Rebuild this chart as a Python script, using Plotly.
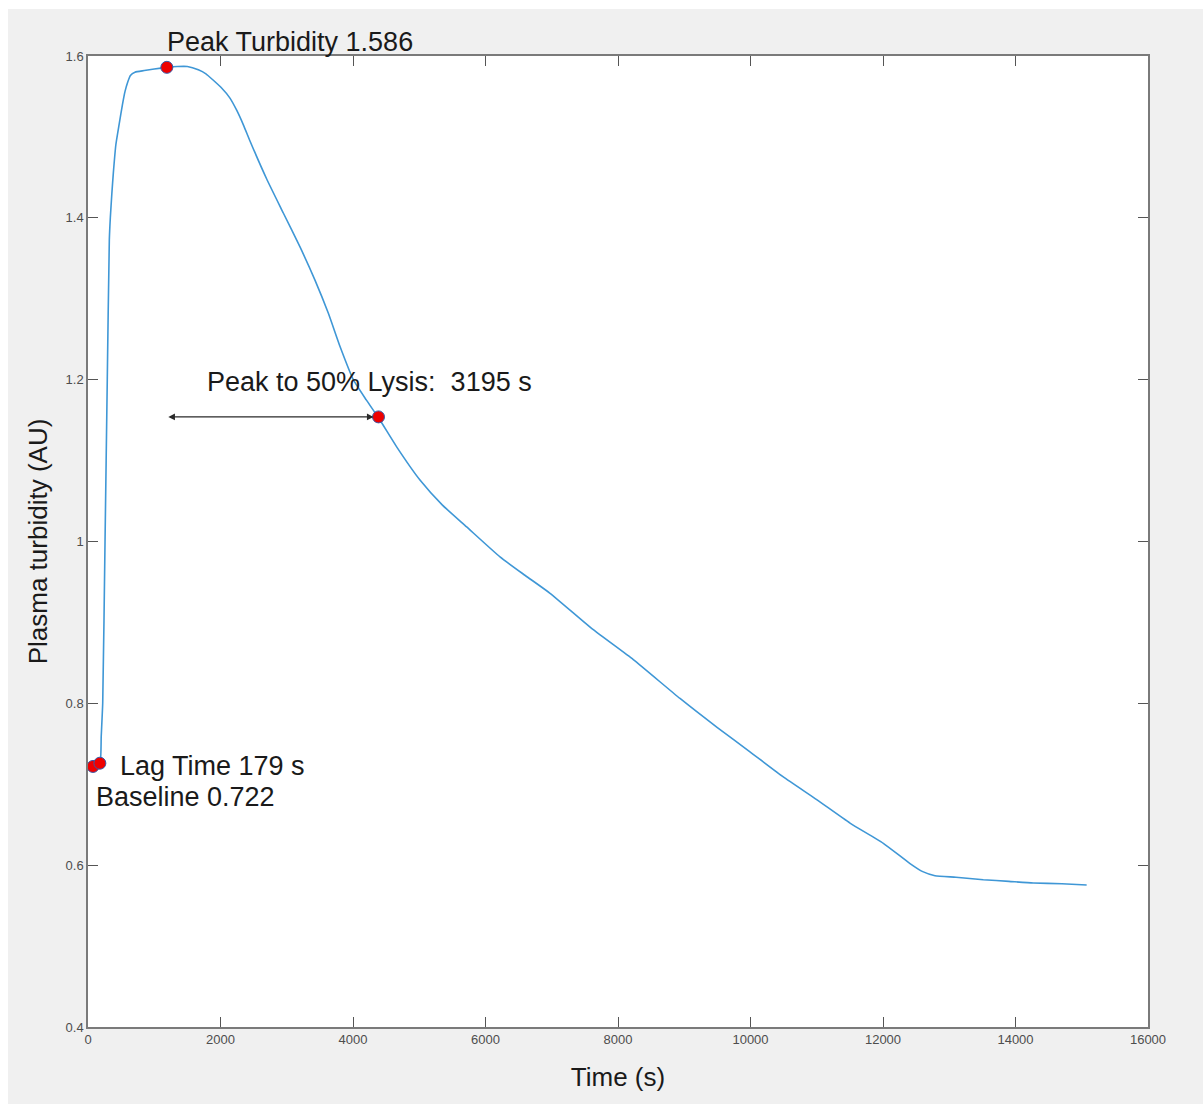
import plotly.graph_objects as go

# ---- data ----
time_s = [60, 120, 179, 200, 222, 257, 291, 322, 337, 360, 382, 420, 473, 520, 558,
          600, 640, 709, 850, 1000, 1190, 1350, 1500, 1665, 1780, 1892, 2010, 2143,
          2244, 2350, 2445, 2697, 2948, 3200, 3426, 3628, 3804, 4005, 4200, 4392,
          4659, 5011, 5350, 5716, 6219, 6600, 6974, 7627, 8231, 8936, 9500, 9992,
          10495, 10999, 11502, 12005, 12408, 12600, 12785, 13100, 13514, 13900,
          14268, 14700, 15074]
turbidity = [0.722, 0.722, 0.724, 0.76, 0.80, 1.00, 1.20, 1.373, 1.40, 1.43, 1.455,
             1.49, 1.517, 1.540, 1.556, 1.568, 1.576, 1.580, 1.582, 1.584, 1.586,
             1.587, 1.587, 1.583, 1.578, 1.570, 1.561, 1.548, 1.533, 1.514, 1.495,
             1.448, 1.406, 1.364, 1.323, 1.282, 1.241, 1.200, 1.175, 1.152, 1.117,
             1.076, 1.045, 1.018, 0.981, 0.958, 0.936, 0.891, 0.854, 0.806, 0.770,
             0.740, 0.709, 0.681, 0.652, 0.627, 0.602, 0.592, 0.587, 0.585, 0.582,
             0.580, 0.578, 0.577, 0.5755]

# key points: baseline, lag time, peak, 50% lysis
key_names = ["Baseline", "Lag Time", "Peak", "50% Lysis"]
key_time = [75, 179, 1190, 4385]
key_value = [0.722, 0.726, 1.586, 1.154]

x_ticks = [0, 2000, 4000, 6000, 8000, 10000, 12000, 14000, 16000]
x_tick_labels = ["0", "2000", "4000", "6000", "8000", "10000", "12000", "14000", "16000"]
y_ticks = [0.4, 0.6, 0.8, 1.0, 1.2, 1.4, 1.6]
y_tick_labels = ["0.4", "0.6", "0.8", "1", "1.2", "1.4", "1.6"]

FONT = "Liberation Sans, Arial, Helvetica, sans-serif"

fig = go.Figure()
fig.add_trace(go.Scatter(
    x=time_s, y=turbidity, mode="lines",
    line=dict(color="#3f97d6", width=1.6, shape="spline", smoothing=0.5),
    showlegend=False, hoverinfo="x+y"))
fig.add_trace(go.Scatter(
    x=key_time, y=key_value, mode="markers", text=key_names,
    marker=dict(color="#ee0000", size=12, line=dict(color="#3a5aa8", width=1)),
    showlegend=False, cliponaxis=False))

ann_font = dict(family=FONT, size=27, color="#1a1a1a")
annotations = [
    dict(x=1162, y=1 + (56 - 42) / 971, xref="x", yref="paper", text="Peak Turbidity 1.586",
         showarrow=False, xanchor="left", yanchor="middle", font=ann_font),
    dict(x=453, y=0.7225, xref="x", yref="y", text="Lag Time 179 s",
         showarrow=False, xanchor="left", yanchor="middle", font=ann_font),
    dict(x=91, y=0.684, xref="x", yref="y", text="Baseline 0.722",
         showarrow=False, xanchor="left", yanchor="middle", font=ann_font),
    dict(x=1766, y=1.197, xref="x", yref="y", text="Peak to 50% Lysis:  3195 s",
         showarrow=False, xanchor="left", yanchor="middle", font=ann_font),
    dict(x=key_time[3], y=key_value[3], ax=key_time[2], ay=key_value[3],
         xref="x", yref="y", axref="x", ayref="y", text="", showarrow=True,
         arrowside="end+start", arrowhead=2, startarrowhead=2, arrowsize=1.1,
         startarrowsize=1.1, arrowwidth=1.2, arrowcolor="#2a2a2a",
         standoff=5, startstandoff=0),
]

axis_common = dict(
    showgrid=False, zeroline=False, ticks="inside", ticklen=10, tickwidth=1.2,
    tickcolor="#555555", showline=True, linecolor="#7a7a7a", linewidth=1.5,
    mirror="ticks", tickfont=dict(family=FONT, size=13, color="#4d4d4d"),
)

fig.update_layout(
    width=1203, height=1104,
    margin=dict(l=88, r=55, t=56, b=77, autoexpand=False),
    paper_bgcolor="#f0f0f0", plot_bgcolor="#ffffff",
    font=dict(family=FONT),
    xaxis=dict(range=[0, 16000], tickvals=x_ticks, ticktext=x_tick_labels,
               title=dict(text="Time (s)", font=dict(family=FONT, size=26, color="#1a1a1a"),
                          standoff=21),
               **axis_common),
    yaxis=dict(range=[0.4, 1.6], tickvals=y_ticks, ticktext=y_tick_labels,
               title=dict(text="Plasma turbidity (AU)", font=dict(family=FONT, size=26, color="#1a1a1a"),
                          standoff=10),
               **axis_common),
    annotations=annotations,
    shapes=[
        dict(type="rect", xref="paper", yref="paper", x0=-0.2, x1=(8 - 88) / 1060,
             y0=-0.2, y1=1.2, fillcolor="#ffffff", line=dict(width=0), layer="above"),
        dict(type="rect", xref="paper", yref="paper", x0=-0.2, x1=1.2,
             y0=1 + (56 - 9) / 971, y1=1.2, fillcolor="#ffffff", line=dict(width=0), layer="above"),
    ],
)

fig.write_html("out.html")
